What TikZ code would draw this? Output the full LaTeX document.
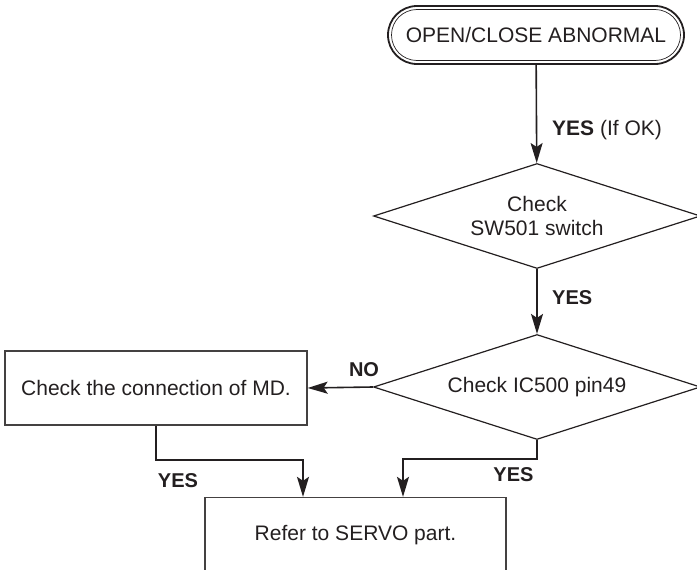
\documentclass[tikz,border=0pt]{standalone}
\usepackage{fontspec}
\setmainfont{Liberation Sans}
\usetikzlibrary{shapes.geometric,arrows.meta}
\definecolor{ink}{HTML}{231F20}

\begin{document}
\begin{tikzpicture}[x=1pt,y=-1pt,
                    every node/.style={font=\fontsize{21}{24.5}\selectfont,text=ink},
                    terminal/.style={rectangle,draw=ink,line width=1.8pt,outer sep=0pt,
                                     rounded corners=29pt,minimum width=296pt,minimum height=58pt},
                    decision/.style={diamond,draw=ink,line width=1.2pt,aspect=3.1,align=center,
                                     inner sep=1pt,minimum width=327pt,minimum height=105pt},
                    box/.style={rectangle,draw=ink!85,line width=1.3pt,minimum height=75pt},
                    flow/.style={draw=ink,line width=1.6pt,-{Stealth[length=20pt,width=12pt,inset=4pt]}},
                    answer/.style={font=\fontsize{20}{24}\selectfont\bfseries}]
  \useasboundingbox (0,0) rectangle (697,570);
  \clip (0,0) rectangle (697,570);

  % Start
  \node[terminal] (start) at (536,35) {OPEN/CLOSE ABNORMAL};
  \draw[ink,line width=0.7pt,rounded corners=25.5pt]
    ([shift={(3.5pt,-3.5pt)}]start.north west) rectangle ([shift={(-3.5pt,3.5pt)}]start.south east);

  % Checks
  \node[decision] (sw) at (537,216) {Check\\SW501 switch};
  \node[decision] (ic) at (537,387) {Check IC500 pin49};
  \node[box,minimum width=302pt,minimum height=74pt] (md) at (156,388) {Check the connection of MD.};
  \node[box,minimum width=301pt,minimum height=76pt] (servo) at (355.5,535.5) {Refer to SERVO part.};

  % Labels
  \node[anchor=west,inner sep=0pt] (okl) at (552,130) {\textbf{YES} (If OK)};
  \node[answer,anchor=west,inner sep=0pt] (swl) at (552,298) {YES};
  \node[answer,inner sep=0pt] (nol) at (364,370) {NO};
  \node[answer,inner sep=0pt] (mdl) at (178,481) {YES};
  \node[answer,inner sep=0pt] (icl) at (513.5,475) {YES};

  \coordinate (jl) at (303,460);
  \coordinate (jr) at (403,459);

  % Connectors
  \draw[flow] (start) -- (sw);
  \draw[flow] (sw) -- (ic);
  \draw[flow] (ic.west) -- (md.east);
  \draw[flow] (md.south) |- (jl) -- (jl |- servo.north);
  \draw[flow] (ic.south) |- (jr) -- (jr |- servo.north);
\end{tikzpicture}
\end{document}
